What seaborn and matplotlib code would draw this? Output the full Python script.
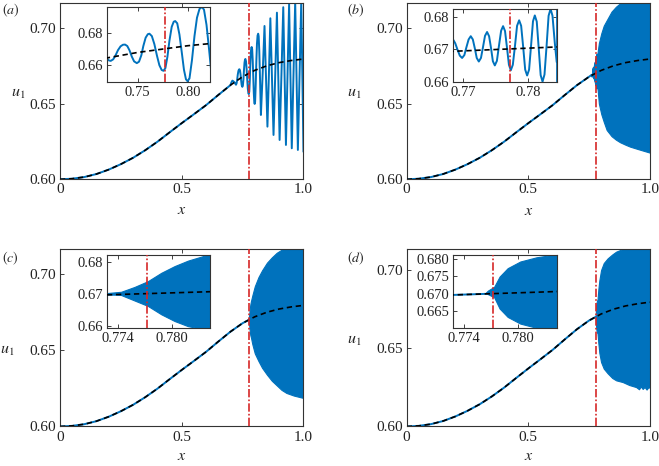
import matplotlib
matplotlib.use('Agg')
import matplotlib.pyplot as plt
import seaborn as sns

# steady solution (black dashed), same in every panel
x_base = [0.00, 0.05, 0.10, 0.15, 0.20, 0.25, 0.30, 0.35, 0.40, 0.45, 0.50,
          0.55, 0.60, 0.65, 0.70, 0.75, 0.80, 0.85, 0.90, 0.95, 1.00]
u_base = [0.6000, 0.6004, 0.6015, 0.6035, 0.6064, 0.6100, 0.6142, 0.6192, 0.6248, 0.6310, 0.6371,
          0.6430, 0.6490, 0.6557, 0.6622, 0.6678, 0.6720, 0.6750, 0.6771, 0.6785, 0.6795]

# position of the red dash-dot line
x_crit = 0.7772

# (a) oscillating solution after x = 0.65
x_osc_a = [0.700, 0.704, 0.708, 0.712, 0.716,
           0.7193, 0.7212, 0.7230, 0.7255, 0.7280, 0.7302, 0.7328, 0.7352, 0.7373,
           0.7395, 0.7418, 0.7440, 0.7463, 0.7490,
           0.7512, 0.7535, 0.7555, 0.7578, 0.7600, 0.7616,
           0.7640, 0.7665, 0.7690, 0.7715, 0.7738, 0.7756,
           0.7775, 0.7795, 0.7815, 0.7838, 0.7858, 0.7873,
           0.7893, 0.7915, 0.7938, 0.7960, 0.7980, 0.7996,
           0.8015, 0.8040, 0.8065, 0.8090, 0.8115, 0.8140,
           0.8160, 0.8185, 0.8210, 0.8232, 0.8252,
           0.8325, 0.8400, 0.8460, 0.8520, 0.8580, 0.8640, 0.8705, 0.8770, 0.8840, 0.8910,
           0.8965, 0.9020, 0.9095, 0.9170, 0.9225, 0.9280, 0.9345, 0.9410, 0.9465, 0.9520,
           0.9590, 0.9660, 0.9715, 0.9770, 0.9840, 0.9910, 0.9955, 1.0000]
u_osc_a = [0.6622, 0.6640, 0.6652, 0.6648, 0.6642,
           0.6637, 0.6628, 0.6625, 0.6635, 0.6662, 0.6692, 0.6716, 0.6726, 0.6727,
           0.6718, 0.6690, 0.6652, 0.6622, 0.6611,
           0.6620, 0.6660, 0.6718, 0.6770, 0.6792, 0.6795,
           0.6780, 0.6730, 0.6660, 0.6598, 0.6568, 0.6563,
           0.6580, 0.6650, 0.6750, 0.6838, 0.6870, 0.6874,
           0.6860, 0.6790, 0.6680, 0.6570, 0.6510, 0.6498,
           0.6515, 0.6630, 0.6780, 0.6895, 0.6950, 0.6962,
           0.6945, 0.6850, 0.6700, 0.6560, 0.6425,
           0.6700, 0.7013, 0.6680, 0.6348, 0.6690, 0.7064, 0.6680, 0.6293, 0.6690, 0.7101,
           0.6680, 0.6260, 0.6690, 0.7137, 0.6680, 0.6227, 0.6690, 0.7159, 0.6680, 0.6205,
           0.6690, 0.7174, 0.6680, 0.6194, 0.6690, 0.7185, 0.6680, 0.6182]

# (b) oscillating solution near onset
x_osc_b = [0.7600, 0.7630, 0.7655, 0.7672,
           0.76846, 0.76880, 0.76915, 0.76950, 0.76985, 0.77020, 0.77050, 0.77085, 0.77118,
           0.77150, 0.77180, 0.77210, 0.77242, 0.77275, 0.77305, 0.77337, 0.77369,
           0.77400, 0.77430, 0.77458, 0.77488, 0.77520, 0.77550, 0.77585, 0.77615,
           0.77645, 0.77675, 0.77705, 0.77734, 0.77765, 0.77798, 0.77830, 0.77862,
           0.77893, 0.77925, 0.77955, 0.77985, 0.78015, 0.78045, 0.78075, 0.78103,
           0.78133, 0.78163, 0.78193, 0.78222, 0.78252, 0.78284, 0.78315, 0.78345,
           0.78375, 0.78410, 0.78440]
u_osc_b = [0.6690, 0.6678, 0.6700, 0.6733,
           0.6730, 0.6718, 0.6698, 0.6680, 0.6673, 0.6682, 0.6705, 0.6730, 0.6740,
           0.6730, 0.6703, 0.6673, 0.6662, 0.6673, 0.6705, 0.6741, 0.6753,
           0.6740, 0.6703, 0.6663, 0.6650, 0.6664, 0.6708, 0.6757, 0.6771,
           0.6756, 0.6705, 0.6652, 0.6635, 0.6652, 0.6710, 0.6772, 0.6789,
           0.6772, 0.6705, 0.6637, 0.6619, 0.6637, 0.6710, 0.6786, 0.6804,
           0.6785, 0.6703, 0.6620, 0.6600, 0.6622, 0.6710, 0.6803, 0.6824,
           0.6803, 0.6720, 0.6660]

# envelopes of the fast oscillations (filled blue)
x_env_b = [0.7844, 0.7900, 0.8000, 0.8100, 0.8220, 0.8420, 0.8600, 0.8770, 0.9000,
           0.9180, 0.9500, 0.9750, 1.0000]
upper_b = [0.6835, 0.6900, 0.6965, 0.7015, 0.7050, 0.7108, 0.7140, 0.7163, 0.7180,
           0.7190, 0.7190, 0.7190, 0.7190]
lower_b = [0.6600, 0.6500, 0.6430, 0.6380, 0.6326, 0.6285, 0.6262, 0.6245, 0.6228,
           0.6216, 0.6200, 0.6188, 0.6176]

x_env_c = [0.7728, 0.7744, 0.7759, 0.7774, 0.7789, 0.7804, 0.7819, 0.7843, 0.7900, 0.8000,
           0.8150, 0.8300, 0.8500, 0.8700, 0.8900, 0.9100, 0.9300, 0.9600, 1.0000]
upper_c = [0.6701, 0.6705, 0.6720, 0.6738, 0.6764, 0.6785, 0.6802, 0.6822, 0.6860, 0.6920,
           0.6980, 0.7025, 0.7075, 0.7110, 0.7140, 0.7160, 0.7175, 0.7185, 0.7190]
lower_c = [0.6699, 0.6695, 0.6678, 0.6661, 0.6635, 0.6614, 0.6598, 0.6585, 0.6540, 0.6480,
           0.6430, 0.6385, 0.6340, 0.6300, 0.6270, 0.6240, 0.6220, 0.6203, 0.6187]

x_env_d = [0.7765, 0.7767, 0.7774, 0.7780, 0.7789, 0.7803, 0.7821, 0.7844, 0.7880, 0.7920,
           0.7990, 0.8100, 0.8260, 0.8450, 0.8610, 0.8880, 0.9150, 0.9430, 0.9550, 0.9620,
           0.9700, 0.9780, 0.9860, 0.9930, 1.0000]
upper_d = [0.6703, 0.6708, 0.6719, 0.6748, 0.6772, 0.6791, 0.6803, 0.6812, 0.6880, 0.6935,
           0.7000, 0.7045, 0.7075, 0.7100, 0.7118, 0.7135, 0.7145, 0.7150, 0.7150, 0.7150,
           0.7150, 0.7150, 0.7150, 0.7150, 0.7150]
lower_d = [0.6703, 0.6698, 0.6689, 0.6657, 0.6633, 0.6614, 0.6602, 0.6595, 0.6530, 0.6470,
           0.6412, 0.6370, 0.6340, 0.6310, 0.6295, 0.6284, 0.6265, 0.6252, 0.6238, 0.6256,
           0.6240, 0.6252, 0.6236, 0.6250, 0.6248]

BLUE = '#0072BD'
RED = '#D62728'

sns.set_style('ticks')
plt.rcParams['font.family'] = ['Liberation Serif', 'DejaVu Serif']
plt.rcParams['mathtext.fontset'] = 'stix'


def style_axes(ax, size=10):
    for sp in ax.spines.values():
        sp.set_color('#333333')
        sp.set_linewidth(0.8)
    ax.tick_params(direction='in', top=True, right=True, length=3, width=0.6,
                   colors='#222222', labelsize=size, pad=3)


def draw_lines(ax, blue_x, blue_y, env=None):
    sns.lineplot(x=blue_x, y=blue_y, ax=ax, color=BLUE, linewidth=1.4,
                 estimator=None, sort=False, legend=False)
    if env is not None:
        ex, eu, el = env
        ax.fill_between(ex, el, eu, color=BLUE, linewidth=0.8, edgecolor=BLUE, zorder=2)
    sns.lineplot(x=x_base, y=u_base, ax=ax, color='black', linewidth=1.2,
                 linestyle=(0, (3.2, 2.2)), estimator=None, sort=False, legend=False, zorder=3)
    ax.axvline(x_crit, color=RED, linewidth=1.2, linestyle=(0, (5, 1.3, 1, 1.3)), zorder=4)


fig = plt.figure(figsize=(6.59, 4.66), dpi=100)

panels = [
    dict(lab='a', rect=[0.0910, 0.6152, 0.3695, 0.3784], irect=[0.1624, 0.8247, 0.1563, 0.1603],
         bx=x_base[:14] + x_osc_a, by=u_base[:14] + u_osc_a, env=None, top=0.7165,
         ixlim=(0.7193, 0.8220), iylim=(0.6495, 0.6962),
         ixt=[0.75, 0.80], ixl=['0.75', '0.80'], iyt=[0.66, 0.68], iyl=['0.66', '0.68'],
         ulab=(-0.17, 0.49), xlab=(0.5, -0.175), plab=(-0.240, 1.008, 'top')),
    dict(lab='b', rect=[0.6171, 0.6152, 0.3692, 0.3784], irect=[0.6879, 0.8234, 0.1569, 0.1567],
         bx=x_base[:16] + x_osc_b, by=u_base[:16] + u_osc_b, env=(x_env_b, upper_b, lower_b),
         top=0.7165, ixlim=(0.7685, 0.7844), iylim=(0.6598, 0.6823),
         ixt=[0.77, 0.78], ixl=['0.77', '0.78'], iyt=[0.66, 0.67, 0.68], iyl=['0.66', '0.67', '0.68'],
         ulab=(-0.215, 0.49), xlab=(0.5, -0.178), plab=(-0.245, 1.008, 'top')),
    dict(lab='c', rect=[0.0910, 0.0848, 0.3695, 0.3809], irect=[0.1628, 0.2955, 0.1558, 0.1573],
         bx=x_base, by=u_base, env=(x_env_c, upper_c, lower_c), top=0.7165,
         ixlim=(0.7728, 0.7843), iylim=(0.6593, 0.6821),
         ixt=[0.774, 0.780], ixl=['0.774', '0.780'], iyt=[0.66, 0.67, 0.68], iyl=['0.66', '0.67', '0.68'],
         ulab=(-0.215, 0.43), xlab=(0.5, -0.168), plab=(-0.240, 0.95, 'center')),
    dict(lab='d', rect=[0.6171, 0.0848, 0.3692, 0.3809], irect=[0.6879, 0.2955, 0.1569, 0.1573],
         bx=x_base, by=u_base, env=(x_env_d, upper_d, lower_d), top=0.7135,
         ixlim=(0.7728, 0.7843), iylim=(0.6602, 0.6811),
         ixt=[0.774, 0.780], ixl=['0.774', '0.780'],
         iyt=[0.665, 0.670, 0.675, 0.680], iyl=['0.665', '0.670', '0.675', '0.680'],
         ulab=(-0.215, 0.486), xlab=(0.5, -0.168), plab=(-0.245, 0.95, 'center')),
]

for p in panels:
    ax = fig.add_axes(p['rect'])
    draw_lines(ax, p['bx'], p['by'], p['env'])
    ax.set_xlim(0, 1)
    ax.set_ylim(0.60, p['top'])
    ax.set_xticks([0, 0.5, 1.0])
    ax.set_xticklabels(['0', '0.5', '1.0'])
    ax.set_yticks([0.60, 0.65, 0.70])
    ax.set_yticklabels(['0.60', '0.65', '0.70'])
    ax.set_xlabel('')
    ax.set_ylabel('')
    style_axes(ax, 11)
    ax.text(p['ulab'][0], p['ulab'][1], r'$u_1$', transform=ax.transAxes,
            ha='center', va='center', fontsize=11.5)
    ax.text(p['xlab'][0], p['xlab'][1], r'$x$', transform=ax.transAxes,
            ha='center', va='center', fontsize=11.5)
    px, py, pva = p['plab']
    ax.text(px, py, r'$(\mathit{' + p['lab'] + '})$', transform=ax.transAxes,
            ha='left', va=pva, fontsize=10)

    ins = fig.add_axes(p['irect'])
    ins.set_facecolor('white')
    ins.set_zorder(5)
    draw_lines(ins, p['bx'], p['by'], p['env'])
    ins.set_xlim(*p['ixlim'])
    ins.set_ylim(*p['iylim'])
    ins.set_xticks(p['ixt'])
    ins.set_xticklabels(p['ixl'])
    ins.set_yticks(p['iyt'])
    ins.set_yticklabels(p['iyl'])
    ins.set_xlabel('')
    ins.set_ylabel('')
    style_axes(ins, 10.5)

fig.savefig('out.png', dpi=100)
